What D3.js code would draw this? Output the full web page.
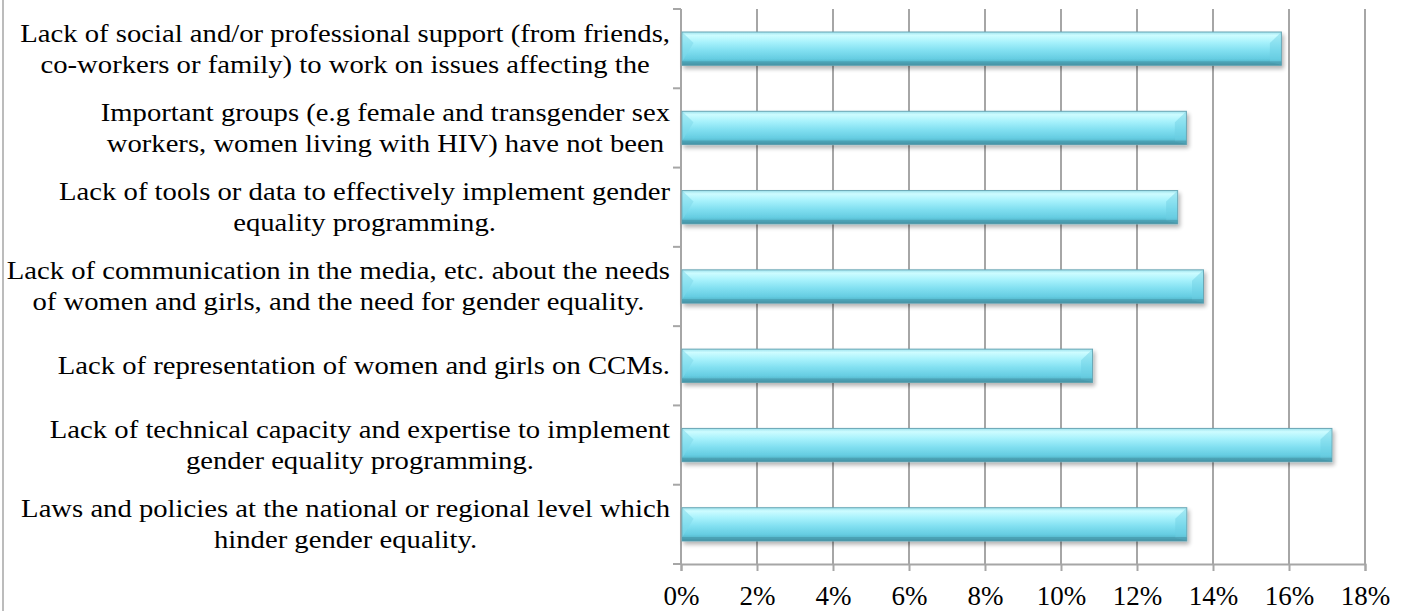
<!DOCTYPE html>
<html>
<head>
<meta charset="utf-8">
<script src="https://cdn.jsdelivr.net/npm/d3@7"></script>
<style>
  body { margin: 0; background: #fff; }
  svg { display: block; }
  text { font-family: "Liberation Serif", "DejaVu Serif", serif; fill: #000; }
</style>
</head>
<body>
<svg width="1407" height="611"></svg>
<script>
// categories, top to bottom (line breaks as in the picture)
var categories = [
    "Lack of social and/or professional support (from friends,\nco-workers or family) to work on issues affecting the",
    "Important groups (e.g female and transgender sex\nworkers, women living with HIV) have not been",
    "Lack of tools or data to effectively implement gender\nequality programming.",
    "Lack of communication in the media, etc. about the needs\nof women and girls, and the need for gender equality.",
    "Lack of representation of women and girls on CCMs.",
    "Lack of technical capacity and expertise to implement\ngender equality programming.",
    "Laws and policies at the national or regional level which\nhinder gender equality."
];
var values = [0.158, 0.133, 0.1307, 0.1375, 0.1083, 0.1713, 0.1331];
var tickValues = [0, 0.02, 0.04, 0.06, 0.08, 0.10, 0.12, 0.14, 0.16, 0.18];

var svg = d3.select("svg");
var margin = {left: 681, right: 42, top: 9, bottom: 47};
var width = 1407, height = 611;

var x = d3.scaleLinear()
    .domain([0, 0.18])
    .range([margin.left, width - margin.right]);

var y = d3.scaleBand()
    .domain(categories)
    .range([margin.top, height - margin.bottom])
    .paddingInner(0.58)
    .paddingOuter(0.29);

// gradient for the glassy bars
var defs = svg.append("defs");
var grad = defs.append("linearGradient")
    .attr("id", "barGrad")
    .attr("x1", 0).attr("y1", 0).attr("x2", 0).attr("y2", 1);
[[0, "#9ee3ee"], [0.1, "#cdfcff"], [0.3, "#a8f2fc"], [0.55, "#82e0f1"], [0.8, "#66cde2"], [0.92, "#52b4c8"], [1, "#3b8c9e"]]
    .forEach(function (s) {
        grad.append("stop").attr("offset", s[0]).attr("stop-color", s[1]);
    });

var shadow = defs.append("filter").attr("id", "shadow")
    .attr("x", "-5%").attr("y", "-30%").attr("width", "110%").attr("height", "180%");
shadow.append("feGaussianBlur").attr("in", "SourceAlpha").attr("stdDeviation", 2.2);
shadow.append("feOffset").attr("dx", 2).attr("dy", 3).attr("result", "blur");
shadow.append("feComponentTransfer").append("feFuncA").attr("type", "linear").attr("slope", 0.3);
var merge = shadow.append("feMerge");
merge.append("feMergeNode");
merge.append("feMergeNode").attr("in", "SourceGraphic");

// outer left border
svg.append("line")
    .attr("x1", 3).attr("x2", 3)
    .attr("y1", 0).attr("y2", height)
    .attr("stroke", "#a6a6a6").attr("stroke-width", 1.5);

// vertical gridlines
svg.append("g")
    .selectAll("line")
    .data(tickValues.slice(1))
    .enter()
    .append("line")
    .attr("x1", function (d) { return x(d); })
    .attr("x2", function (d) { return x(d); })
    .attr("y1", margin.top)
    .attr("y2", height - margin.bottom)
    .attr("stroke", "#a6a6a6")
    .attr("stroke-width", 2);

// x axis
var xAxis = svg.append("g")
    .attr("transform", "translate(0," + (height - margin.bottom) + ")")
    .call(d3.axisBottom(x).tickValues(tickValues).tickFormat(d3.format(".0%")).tickSize(7).tickPadding(15));
xAxis.select(".domain").attr("stroke", "#a6a6a6").attr("stroke-width", 2);
xAxis.selectAll(".tick line").attr("stroke", "#a6a6a6").attr("stroke-width", 2);
xAxis.selectAll(".tick text")
    .style("font-family", "'Liberation Serif', serif")
    .style("font-size", "27px")
    .attr("fill", "#000");

// y axis: ticks sit on the band boundaries
var bounds = d3.range(categories.length + 1).map(function (i) {
    return margin.top + i * y.step();
});
svg.append("line")
    .attr("x1", x(0)).attr("x2", x(0))
    .attr("y1", margin.top).attr("y2", height - margin.bottom)
    .attr("stroke", "#a6a6a6").attr("stroke-width", 2);
svg.append("g")
    .selectAll("line")
    .data(bounds)
    .enter()
    .append("line")
    .attr("x1", x(0) - 8).attr("x2", x(0))
    .attr("y1", function (d) { return d; })
    .attr("y2", function (d) { return d; })
    .attr("stroke", "#a6a6a6").attr("stroke-width", 2);

// bars
var bars = svg.append("g")
    .selectAll("g")
    .data(values)
    .enter()
    .append("g")
    .attr("filter", "url(#shadow)");

bars.append("rect")
    .attr("x", x(0) + 1)
    .attr("y", function (d, i) { return y(categories[i]); })
    .attr("width", function (d) { return x(d) - x(0) - 1; })
    .attr("height", y.bandwidth())
    .attr("fill", "url(#barGrad)")
    .attr("stroke", "#6aa7b5")
    .attr("stroke-width", 1);

// bevelled ends
var bev = 11;
bars.append("path")
    .attr("d", function (d, i) {
        var y0 = y(categories[i]), h = y.bandwidth(), x1 = x(d) - 0.5;
        return "M" + x1 + "," + (y0 + 0.5) + "L" + (x1 - bev) + "," + (y0 + bev) +
            "L" + (x1 - bev) + "," + (y0 + h - 3) + "L" + x1 + "," + (y0 + h - 0.5) + "Z";
    })
    .attr("fill", "#6ccfe2")
    .attr("opacity", 0.45);
bars.append("path")
    .attr("d", function (d, i) {
        var y0 = y(categories[i]), h = y.bandwidth(), x0 = x(0) + 1.5;
        return "M" + x0 + "," + (y0 + 0.5) + "L" + (x0 + bev) + "," + (y0 + bev) +
            "L" + x0 + "," + (y0 + h - 4) + "Z";
    })
    .attr("fill", "#7fd9ea")
    .attr("opacity", 0.55);
bars.append("rect")
    .attr("x", x(0) + 1)
    .attr("y", function (d, i) { return y(categories[i]) + y.bandwidth() - 4; })
    .attr("width", function (d) { return x(d) - x(0) - 1; })
    .attr("height", 4)
    .attr("fill", "#4895a7")
    .attr("opacity", 0.6);

// category labels, each block centred then right-aligned to the axis
var labelRight = 670, lineH = 31, stretch = 1.125;
var labels = svg.append("g")
    .selectAll("g")
    .data(categories)
    .enter()
    .append("g")
    .attr("transform", "translate(" + labelRight + ",0) scale(" + stretch + ",1)");

labels.each(function (c) {
    var g = d3.select(this);
    var lines = c.split("\n");
    var cy = y(c) + y.bandwidth() / 2;
    var texts = g.selectAll("text")
        .data(lines)
        .enter()
        .append("text")
        .style("font-size", "25.5px")
        .attr("text-anchor", "middle")
        .attr("dominant-baseline", "central")
        .attr("y", function (d, i) { return cy + (i - (lines.length - 1) / 2) * lineH; })
        .text(function (d) { return d; });
    var w = d3.max(texts.nodes(), function (n) { return n.getComputedTextLength(); });
    texts.attr("x", -w / 2);
});
</script>
</body>
</html>
